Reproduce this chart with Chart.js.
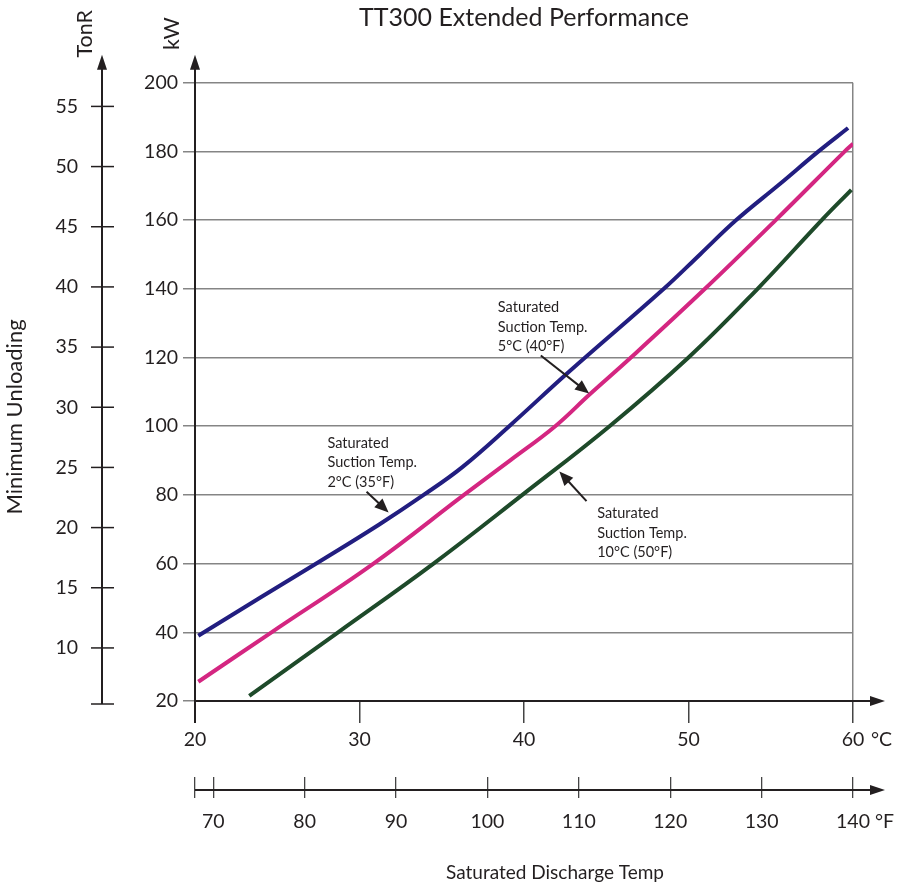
<!DOCTYPE html>
<html>
<head>
<meta charset="utf-8">
<title>TT300 Extended Performance</title>
<script src="https://cdn.jsdelivr.net/npm/chart.js@4.4.1/dist/chart.umd.min.js"></script>
<style>
  html, body { margin: 0; padding: 0; background: #fff; }
  canvas { display: block; }
</style>
</head>
<body>
<canvas id="perf" width="899" height="888"></canvas>
<script>
// Saturated discharge temp (°C) vs capacity (kW), one pair of arrays per suction curve
const suction2C  = [20.2, 24.0, 27.5, 31.2, 33.9, 36.25, 39.1, 42.7, 48.5, 50.7, 52.9, 55.55, 57.9, 59.7];
const suction2KW = [39.0, 50.2, 60.4, 71.4, 80.0, 88.1, 100.0, 115.7, 140.0, 150.0, 160.0, 170.5, 180.0, 186.8];

const suction5C  = [20.2, 24.65, 30.85, 36.35, 39.2, 41.9, 44.0, 46.5, 51.0, 55.3, 59.5, 60.0];
const suction5KW = [25.6, 40.0, 60.0, 80.0, 90.2, 100.0, 109.3, 120.0, 140.0, 160.0, 180.0, 182.2];

const suction10C  = [23.3, 28.7, 34.5, 39.9, 45.2, 50.0, 54.2, 58.1, 59.9];
const suction10KW = [21.5, 40.0, 60.0, 80.0, 100.0, 120.0, 140.0, 160.0, 168.8];

// axis ticks
const celsiusTicks = [20, 30, 40, 50, 60];
const fahrenheitTicks = [68, 70, 80, 90, 100, 110, 120, 130, 140];
const kwTicks = [20, 40, 60, 80, 100, 120, 140, 160, 180, 200];
const tonrTicks = [10, 15, 20, 25, 30, 35, 40, 45, 50, 55];

// callouts: text anchor, arrow tail and arrow tip in data units (°C, kW)
const notes = [
    { lines: ['Saturated', 'Suction Temp.', '2°C (35°F)'], at: [28.05, 95.1], from: [30.43, 80.9], to: [31.77, 74.9] },
    { lines: ['Saturated', 'Suction Temp.', '5°C (40°F)'], at: [38.41, 134.5], from: [41.02, 120.6], to: [43.96, 109.5] },
    { lines: ['Saturated', 'Suction Temp.', '10°C (50°F)'], at: [44.45, 74.6], from: [43.80, 78.2], to: [42.15, 86.8] }
];

const ink = '#231f20';
const gridGrey = '#858585';
const fontFamily = 'Lato, "Open Sans", sans-serif';

Chart.defaults.font.family = fontFamily;
Chart.defaults.color = ink;

const toPoints = (xs, ys) => xs.map((x, i) => ({ x: x, y: ys[i] }));
const fixedTicks = (values) => (scale) => { scale.ticks = values.map(v => ({ value: v })); };

function arrowHead(ctx, x0, y0, x1, y1, len, half) {
    const ang = Math.atan2(y1 - y0, x1 - x0);
    ctx.beginPath();
    ctx.moveTo(x1, y1);
    ctx.lineTo(x1 - len * Math.cos(ang) + half * Math.sin(ang), y1 - len * Math.sin(ang) - half * Math.cos(ang));
    ctx.lineTo(x1 - len * Math.cos(ang) - half * Math.sin(ang), y1 - len * Math.sin(ang) + half * Math.cos(ang));
    ctx.closePath();
    ctx.fill();
}

function arrowLine(ctx, x0, y0, x1, y1, len, half) {
    const ang = Math.atan2(y1 - y0, x1 - x0);
    ctx.beginPath();
    ctx.moveTo(x0, y0);
    ctx.lineTo(x1 - len * 0.8 * Math.cos(ang), y1 - len * 0.8 * Math.sin(ang));
    ctx.stroke();
    arrowHead(ctx, x0, y0, x1, y1, len, half);
}

function rotatedText(ctx, text, x, y) {
    ctx.save();
    ctx.translate(x, y);
    ctx.rotate(-Math.PI / 2);
    ctx.textAlign = 'center';
    ctx.textBaseline = 'middle';
    ctx.fillText(text, 0, 0);
    ctx.restore();
}

// axis lines with arrows, crossing TonR ticks, unit labels and callouts
const axisDecor = {
    id: 'axisDecor',
    afterDatasetsDraw(chart) {
        const { ctx, scales: { x, y } } = chart;
        ctx.save();
        ctx.fillStyle = ink;
        ctx.strokeStyle = ink;
        ctx.lineWidth = 2;
        ctx.font = '14.5px ' + fontFamily;
        ctx.textAlign = 'left';
        ctx.textBaseline = 'middle';
        notes.forEach(n => {
            const tx = x.getPixelForValue(n.at[0]);
            const ty = y.getPixelForValue(n.at[1]);
            n.lines.forEach((line, i) => ctx.fillText(line, tx, ty + i * 19.5));
            arrowLine(ctx,
                x.getPixelForValue(n.from[0]), y.getPixelForValue(n.from[1]),
                x.getPixelForValue(n.to[0]), y.getPixelForValue(n.to[1]), 14, 6);
        });
        ctx.restore();
    },
    afterDraw(chart) {
        const { ctx, chartArea: a, scales: { xF, yT } } = chart;
        const tipY = a.top - 28;
        const tipX = a.right + 32;
        ctx.save();
        ctx.fillStyle = ink;
        ctx.strokeStyle = ink;
        ctx.lineWidth = 2;

        // kW axis
        ctx.beginPath();
        ctx.moveTo(a.left, a.bottom + 22);
        ctx.lineTo(a.left, tipY + 10);
        ctx.stroke();
        arrowHead(ctx, a.left, a.bottom, a.left, tipY, 15, 5);

        // TonR axis
        const tx = yT.right;
        ctx.beginPath();
        ctx.moveTo(tx, a.bottom + 3);
        ctx.lineTo(tx, tipY + 10);
        ctx.stroke();
        arrowHead(ctx, tx, a.bottom, tx, tipY, 15, 5);
        ctx.lineWidth = 1.5;
        tonrTicks.forEach(t => {
            const py = yT.getPixelForValue(t);
            ctx.beginPath();
            ctx.moveTo(tx - 11, py);
            ctx.lineTo(tx + 12, py);
            ctx.stroke();
        });
        ctx.beginPath();
        ctx.moveTo(tx - 11, a.bottom + 3);
        ctx.lineTo(tx + 12, a.bottom + 3);
        ctx.stroke();

        // °C axis
        ctx.lineWidth = 2;
        ctx.beginPath();
        ctx.moveTo(a.left, a.bottom);
        ctx.lineTo(tipX - 10, a.bottom);
        ctx.stroke();
        arrowHead(ctx, a.left, a.bottom, tipX, a.bottom, 15, 5);

        // °F axis
        const fy = xF.top + 13;
        ctx.beginPath();
        ctx.moveTo(xF.getPixelForValue(68), fy);
        ctx.lineTo(tipX - 10, fy);
        ctx.stroke();
        arrowHead(ctx, a.left, fy, tipX, fy, 15, 5);

        // unit and axis titles
        ctx.font = '19.5px ' + fontFamily;
        ctx.textAlign = 'left';
        ctx.textBaseline = 'middle';
        ctx.fillText('°C', a.right + 18, a.bottom + 39);
        ctx.fillText('°F', a.right + 22, xF.top + 45);
        ctx.textAlign = 'center';
        ctx.font = '19px ' + fontFamily;
        ctx.fillText('Saturated Discharge Temp', a.left + 360, xF.top + 96);
        ctx.font = '21.5px ' + fontFamily;
        rotatedText(ctx, 'kW', a.left - 23, tipY - 21);
        rotatedText(ctx, 'TonR', tx - 17, tipY - 21);
        ctx.font = '22px ' + fontFamily;
        rotatedText(ctx, 'Minimum Unloading', 14.5, 417);
        ctx.restore();
    }
};

const tickFont = { size: 19.5 };
const curveStyle = { borderWidth: 4, pointRadius: 0, tension: 0.4 };

new Chart(document.getElementById('perf'), {
    type: 'line',
    data: {
        datasets: [
            Object.assign({ label: '2°C (35°F)', data: toPoints(suction2C, suction2KW), borderColor: '#221e80' }, curveStyle),
            Object.assign({ label: '5°C (40°F)', data: toPoints(suction5C, suction5KW), borderColor: '#d42681' }, curveStyle),
            Object.assign({ label: '10°C (50°F)', data: toPoints(suction10C, suction10KW), borderColor: '#1e4a2a' }, curveStyle)
        ]
    },
    options: {
        responsive: false,
        animation: false,
        devicePixelRatio: 1,
        layout: { padding: { left: 0, right: 46, top: 0, bottom: 0 } },
        plugins: {
            legend: { display: false },
            tooltip: { enabled: false },
            title: {
                display: true,
                text: 'TT300 Extended Performance',
                fullSize: false,
                color: ink,
                font: { size: 25, weight: 'normal' },
                padding: { top: 3, bottom: 49.7 }
            }
        },
        scales: {
            x: {
                type: 'linear',
                position: 'bottom',
                weight: 0,
                min: 20,
                max: 60,
                afterBuildTicks: fixedTicks(celsiusTicks),
                afterFit: (s) => { s.height = 76; },
                ticks: { padding: 5, font: tickFont, color: ink, maxRotation: 0, autoSkip: false },
                grid: {
                    color: (c) => (c.tick && c.tick.value === 60 ? gridGrey : 'rgba(0,0,0,0)'),
                    tickColor: '#444',
                    tickLength: 22,
                    lineWidth: 1.5
                },
                border: { display: false }
            },
            xF: {
                type: 'linear',
                position: 'bottom',
                weight: 1,
                min: 68,
                max: 140,
                afterBuildTicks: fixedTicks(fahrenheitTicks),
                afterFit: (s) => { s.height = 111; },
                ticks: {
                    padding: 12,
                    font: tickFont,
                    color: ink,
                    maxRotation: 0,
                    autoSkip: false,
                    callback: (v) => (v === 68 ? '' : String(v))
                },
                grid: { drawOnChartArea: false, color: '#444', tickLength: 21, lineWidth: 1.3 },
                border: { display: false }
            },
            y: {
                type: 'linear',
                position: 'left',
                weight: 0,
                min: 20,
                max: 200,
                afterBuildTicks: fixedTicks(kwTicks),
                afterFit: (s) => { s.width = 93; },
                ticks: { padding: 5, font: tickFont, color: ink },
                grid: { color: gridGrey, lineWidth: 1.5, tickLength: 12 },
                border: { display: false }
            },
            yT: {
                type: 'linear',
                position: 'left',
                weight: 1,
                min: 5.59,
                max: 56.97,
                afterBuildTicks: fixedTicks(tonrTicks),
                afterFit: (s) => { s.width = 102; },
                ticks: { padding: 24, font: tickFont, color: ink },
                grid: { display: false, drawTicks: false },
                border: { display: false }
            }
        }
    },
    plugins: [axisDecor]
});
</script>
</body>
</html>
